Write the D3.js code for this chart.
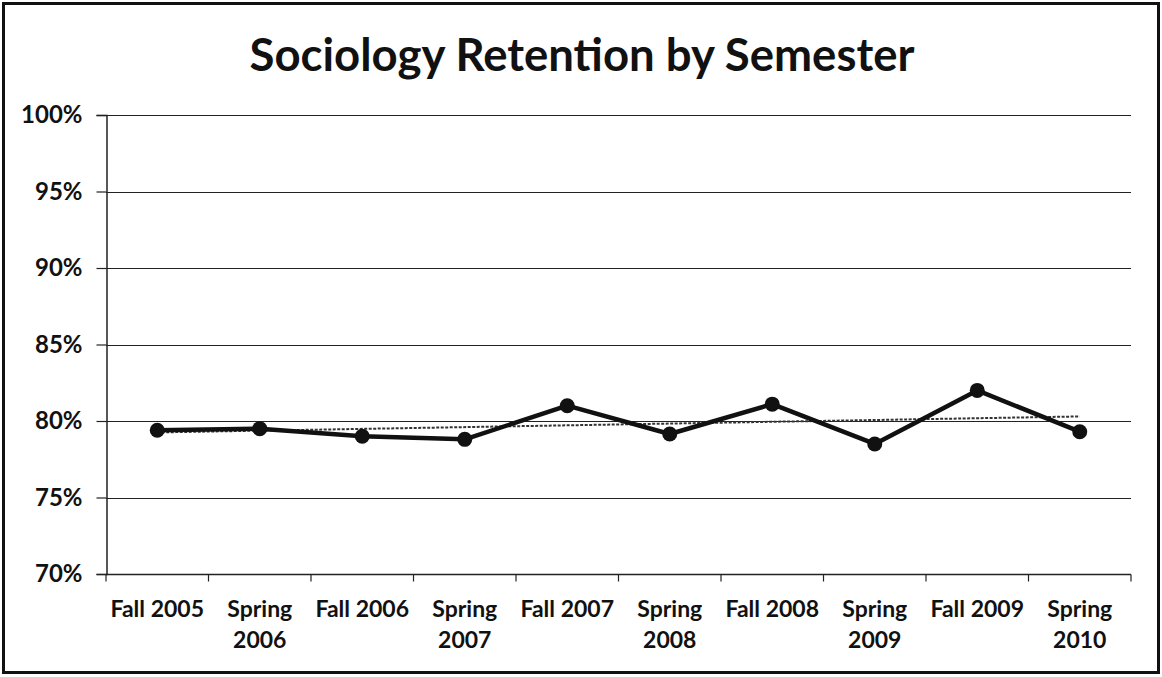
<!DOCTYPE html>
<html>
<head>
<meta charset="utf-8">
<script src="https://cdn.jsdelivr.net/npm/d3@7/dist/d3.min.js"></script>
<style>
  html, body { margin: 0; padding: 0; background: #fff; }
  svg { display: block; }
  text { font-family: Lato, "Open Sans", sans-serif; fill: #111; }
</style>
</head>
<body>
<svg id="chart" width="1162" height="677"></svg>
<script>
// Semester labels (two lines where the label wraps)
const semesters = [
  ["Fall 2005"], ["Spring", "2006"], ["Fall 2006"], ["Spring", "2007"],
  ["Fall 2007"], ["Spring", "2008"], ["Fall 2008"], ["Spring", "2009"],
  ["Fall 2009"], ["Spring", "2010"]
];
// Retention rate per semester (%)
const retention = [79.4, 79.5, 79.0, 78.8, 81.0, 79.15, 81.1, 78.5, 82.0, 79.3];
// Y axis ticks (%)
const yTicks = [70, 75, 80, 85, 90, 95, 100];
const chartTitle = "Sociology Retention by Semester";

const svg = d3.select("#chart");
const W = 1162, H = 677;
const plot = { left: 106, right: 1131, top: 115, bottom: 574 };

// outer frame
svg.append("rect")
  .attr("x", 3.5).attr("y", 3.5).attr("width", W - 7).attr("height", H - 8)
  .attr("fill", "#fff").attr("stroke", "#111").attr("stroke-width", 3);

// title
svg.append("text")
  .attr("x", 582).attr("y", 71)
  .attr("text-anchor", "middle")
  .attr("font-weight", 700).attr("font-size", 45.5)
  .text(chartTitle);

const keys = semesters.map((d, i) => i);
const x = d3.scaleBand().domain(keys).range([plot.left, plot.right]);
const y = d3.scaleLinear().domain([70, 100]).range([plot.bottom, plot.top]);

// horizontal gridlines
svg.append("g").selectAll("line").data(yTicks.filter(t => t > 70)).join("line")
  .attr("x1", plot.left).attr("x2", plot.right)
  .attr("y1", d => Math.round(y(d)) + 0.5).attr("y2", d => Math.round(y(d)) + 0.5)
  .attr("stroke", "#222").attr("stroke-width", 1.2);

// y axis
const yAxis = svg.append("g")
  .attr("transform", `translate(${plot.left + 0.5},0)`)
  .call(d3.axisLeft(y).tickValues(yTicks).tickSize(10).tickPadding(14)
    .tickFormat(d => d + "%"));
yAxis.select(".domain").attr("stroke", "#222").attr("stroke-width", 1.5);
yAxis.selectAll(".tick line").attr("stroke", "#222").attr("stroke-width", 1.2);
yAxis.selectAll(".tick text")
  .attr("font-family", "Lato, sans-serif").attr("font-size", 24)
  .attr("font-weight", 700).attr("fill", "#111");

// x axis: ticks at category boundaries
const xAxisG = svg.append("g").attr("transform", `translate(0,${plot.bottom + 0.5})`);
xAxisG.append("line")
  .attr("x1", plot.left).attr("x2", plot.right)
  .attr("stroke", "#222").attr("stroke-width", 1.5);
const boundaries = keys.map(k => x(k)).concat([x(keys[keys.length - 1]) + x.bandwidth()]);
xAxisG.selectAll("line.tk").data(boundaries).join("line").attr("class", "tk")
  .attr("x1", d => d).attr("x2", d => d).attr("y1", 0).attr("y2", 7)
  .attr("stroke", "#222").attr("stroke-width", 1.2);

const labels = xAxisG.selectAll("text").data(semesters).join("text")
  .attr("text-anchor", "middle")
  .attr("font-size", 23).attr("font-weight", 700)
  .attr("transform", (d, i) => `translate(${x(i) + x.bandwidth() / 2},42.5)`);
labels.selectAll("tspan").data(d => d).join("tspan")
  .attr("x", 0).attr("dy", (d, i) => i === 0 ? 0 : 31)
  .text(d => d);

// linear trendline (least squares over the semester index)
const n = retention.length;
const mx = d3.mean(keys), my = d3.mean(retention);
const slope = d3.sum(keys, i => (i - mx) * (retention[i] - my)) / d3.sum(keys, i => (i - mx) ** 2);
const icpt = my - slope * mx;
const cx = i => x(i) + x.bandwidth() / 2;
svg.append("line")
  .attr("x1", cx(0)).attr("x2", cx(n - 1))
  .attr("y1", y(icpt)).attr("y2", y(icpt + slope * (n - 1)))
  .attr("stroke", "#333").attr("stroke-width", 2)
  .attr("stroke-dasharray", "3,1.5");

// retention series
svg.append("path").datum(retention)
  .attr("fill", "none").attr("stroke", "#111").attr("stroke-width", 4.5)
  .attr("stroke-linejoin", "round")
  .attr("d", d3.line().x((d, i) => cx(i)).y(d => y(d)));

svg.append("g").selectAll("circle").data(retention).join("circle")
  .attr("cx", (d, i) => cx(i)).attr("cy", d => y(d)).attr("r", 7.5)
  .attr("fill", "#111");
</script>
</body>
</html>
